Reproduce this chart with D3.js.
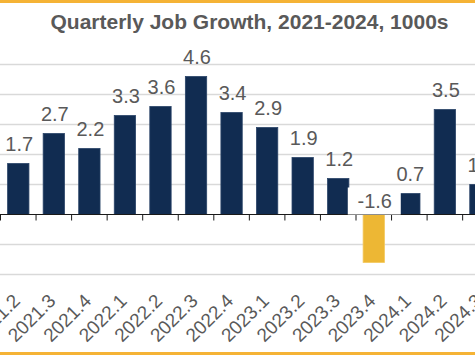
<!DOCTYPE html>
<html>
<head>
<meta charset="utf-8">
<script src="https://cdn.jsdelivr.net/npm/d3@7"></script>
<style>
  html, body { margin: 0; padding: 0; background: #fff; }
  svg { display: block; font-family: "Liberation Sans", Arial, sans-serif; }
</style>
</head>
<body>
<script>
const categories = ["2021.2","2021.3","2021.4","2022.1","2022.2","2022.3","2022.4","2023.1","2023.2","2023.3","2023.4","2024.1","2024.2","2024.3"];
const values = [1.7, 2.7, 2.2, 3.3, 3.6, 4.6, 3.4, 2.9, 1.9, 1.2, -1.6, 0.7, 3.5, 1.0];
const gridValues = [-2, -1, 0, 1, 2, 3, 4, 5];
const title = "Quarterly Job Growth, 2021-2024, 1000s";

const W = 475, H = 355;
const navy = "#112C51", gold = "#EDB734", accent = "#F5B335", textGray = "#595959";

const svg = d3.select("body").append("svg").attr("width", W).attr("height", H);

svg.append("rect").attr("width", W).attr("height", H).attr("fill", "#fff");

const step = 35.55;
const x = d3.scaleBand().domain(categories)
  .range([0.5, 0.5 + step * categories.length])
  .paddingInner(0.4).paddingOuter(0.2);
const y = d3.scaleLinear().domain([-2, 5]).range([274.5, 64.5]);

// gridlines
svg.append("g").selectAll("line").data(gridValues.filter(v => v !== 0)).join("line")
  .attr("x1", 0).attr("x2", W)
  .attr("y1", d => y(d)).attr("y2", d => y(d))
  .attr("stroke", "#d9d9d9").attr("stroke-width", 1.5);

// bars
svg.append("g").selectAll("rect").data(categories).join("rect")
  .attr("x", d => x(d))
  .attr("width", x.bandwidth())
  .attr("y", (d, i) => y(Math.max(0, values[i])))
  .attr("height", (d, i) => Math.abs(y(values[i]) - y(0)))
  .attr("fill", (d, i) => values[i] < 0 ? gold : navy)
  .attr("stroke", (d, i) => values[i] < 0 ? "#F3C95E" : "#2A4468")
  .attr("stroke-width", 0.8);

// axis line & ticks
const bounds = categories.map(c => x(c) - x.step() * x.paddingInner() / 2);
bounds.push(x(categories[categories.length - 1]) + x.bandwidth() + x.step() * x.paddingInner() / 2);
svg.append("line").attr("x1", 0).attr("x2", W).attr("y1", y(0)).attr("y2", y(0))
  .attr("stroke", "#1a1a1a").attr("stroke-width", 1);
svg.append("g").selectAll("line").data(bounds).join("line")
  .attr("x1", d => d).attr("x2", d => d)
  .attr("y1", y(0)).attr("y2", y(0) + 6)
  .attr("stroke", "#1a1a1a").attr("stroke-width", 1);

// value labels
const lab = svg.append("g");
categories.forEach((c, i) => {
  const v = values[i];
  const cx = x(c) + x.bandwidth() / 2 + 1;
  if (v >= 0) {
    lab.append("text").attr("x", cx).attr("y", y(v) - 13)
      .attr("text-anchor", "middle").attr("font-size", 20).attr("fill", textGray)
      .text(v.toFixed(1));
  } else {
    lab.append("rect").attr("x", cx - 27).attr("y", y(0) - 27)
      .attr("width", 53).attr("height", 27).attr("fill", "#fff");
    lab.append("text").attr("x", cx).attr("y", y(0) - 7)
      .attr("text-anchor", "middle").attr("font-size", 20).attr("fill", textGray)
      .text(v.toFixed(1));
  }
});

// category labels
svg.append("g").selectAll("text").data(categories).join("text")
  .attr("transform", d => `translate(${x(d) + x.bandwidth() / 2 + 3},302) rotate(-45)`)
  .attr("text-anchor", "end").attr("font-size", 19).attr("fill", textGray)
  .text(d => d);

// title
svg.append("text").attr("x", 249.5).attr("y", 29).attr("text-anchor", "middle")
  .attr("font-size", 21).attr("font-weight", "bold").attr("fill", textGray)
  .text(title);

// accent lines
svg.append("rect").attr("x", 0).attr("y", 0).attr("width", W).attr("height", 3).attr("fill", accent);
svg.append("rect").attr("x", 0).attr("y", H - 3).attr("width", W).attr("height", 3).attr("fill", accent);
</script>
</body>
</html>
